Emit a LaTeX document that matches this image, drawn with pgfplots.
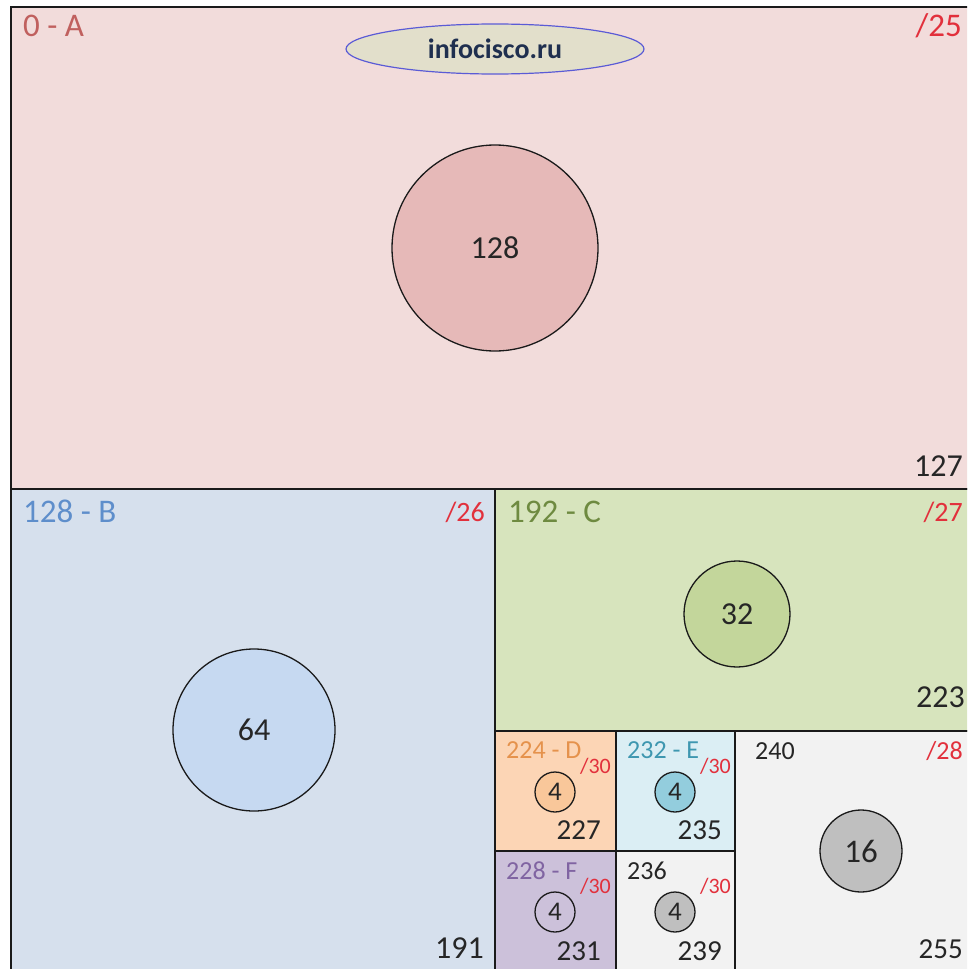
\documentclass[border=0pt]{standalone}
\usepackage{fontspec}
\setmainfont{Carlito}
\usepackage{pgfplots}
\pgfplotsset{compat=1.18}
\usetikzlibrary{shapes.geometric}
\definecolor{Abg}{HTML}{F2DCDB}
\definecolor{Acirc}{HTML}{E6B9B8}
\definecolor{Bbg}{HTML}{D6E0ED}
\definecolor{Bcirc}{HTML}{C6D9F1}
\definecolor{Cbg}{HTML}{D7E4BD}
\definecolor{Ccirc}{HTML}{C3D69B}
\definecolor{Dbg}{HTML}{FCD5B5}
\definecolor{Dcirc}{HTML}{F9C79A}
\definecolor{Ebg}{HTML}{DBEEF4}
\definecolor{Ecirc}{HTML}{93CDDD}
\definecolor{Fbg}{HTML}{CCC1DA}
\definecolor{Gbg}{HTML}{F2F2F2}
\definecolor{Gcirc}{HTML}{BFBFBF}
\definecolor{lineblk}{HTML}{1A1A1A}
\definecolor{txt}{HTML}{262626}
\definecolor{Acol}{HTML}{C0605E}
\definecolor{Bcol}{HTML}{5E8ECB}
\definecolor{Ccol}{HTML}{6E8A40}
\definecolor{Dcol}{HTML}{E5924C}
\definecolor{Ecol}{HTML}{3E97B0}
\definecolor{Fcol}{HTML}{8064A2}
\definecolor{pref}{HTML}{E2303C}
\definecolor{ellfill}{HTML}{E2DFCB}
\definecolor{ellline}{HTML}{5B5BD6}
\definecolor{navy}{HTML}{1F2F4F}
\newcommand{\fs}[1]{\fontsize{#1}{#1}\selectfont}
\pgfplotsset{
  circ/.style n args={3}{only marks, mark=*, mark size=#1,
    mark options={fill=#2, draw=lineblk, line width=1.3pt},
    nodes near coords={#3}, nodes near coords align={center}},
}
\begin{document}
\begin{tikzpicture}
\begin{axis}[scale only axis, width=967pt, height=969pt,
  xmin=0, xmax=967, ymin=0, ymax=969, y dir=reverse, hide axis, clip=true]
% blocks
\addplot[draw=lineblk, line width=2pt, fill=Abg] coordinates {(11,7) (990,7) (990,489) (11,489)} -- cycle;
\addplot[draw=lineblk, line width=2pt, fill=Bbg] coordinates {(11,489) (495,489) (495,990) (11,990)} -- cycle;
\addplot[draw=lineblk, line width=2pt, fill=Cbg] coordinates {(495,489) (990,489) (990,731) (495,731)} -- cycle;
\addplot[draw=lineblk, line width=2pt, fill=Dbg] coordinates {(495,731) (616,731) (616,851) (495,851)} -- cycle;
\addplot[draw=lineblk, line width=2pt, fill=Ebg] coordinates {(616,731) (735,731) (735,851) (616,851)} -- cycle;
\addplot[draw=lineblk, line width=2pt, fill=Fbg] coordinates {(495,851) (616,851) (616,990) (495,990)} -- cycle;
\addplot[draw=lineblk, line width=2pt, fill=Gbg] coordinates {(616,851) (735,851) (735,990) (616,990)} -- cycle;
\addplot[draw=lineblk, line width=2pt, fill=Gbg] coordinates {(735,731) (990,731) (990,990) (735,990)} -- cycle;
% circles with labels
\addplot[circ={103pt}{Acirc}{128}, every node near coord/.append style={font=\fs{32}, text=txt}] coordinates {(495,248)};
\addplot[circ={81pt}{Bcirc}{64}, every node near coord/.append style={font=\fs{32}, text=txt}] coordinates {(254,730)};
\addplot[circ={53pt}{Ccirc}{32}, every node near coord/.append style={font=\fs{32}, text=txt}] coordinates {(737,614)};
\addplot[circ={20pt}{Dcirc}{4}, every node near coord/.append style={font=\fs{27}, text=txt}] coordinates {(555,792)};
\addplot[circ={20pt}{Ecirc}{4}, every node near coord/.append style={font=\fs{27}, text=txt}] coordinates {(675,792)};
\addplot[circ={20pt}{Fbg}{4}, every node near coord/.append style={font=\fs{27}, text=txt}] coordinates {(555,912)};
\addplot[circ={20pt}{Gcirc}{4}, every node near coord/.append style={font=\fs{27}, text=txt}] coordinates {(675,912)};
\addplot[circ={41pt}{Gcirc}{16}, every node near coord/.append style={font=\fs{33}, text=txt}] coordinates {(861,851)};
% logo
\node[ellipse, draw=ellline, line width=1.2pt, fill=ellfill, minimum width=298pt, minimum height=50pt, inner sep=0pt, font=\bfseries\fs{28}, text=navy] at (axis cs:495,49) {infocisco.ru};
% A
\node[anchor=base west, font=\fs{33}, text=Acol, inner sep=0pt] at (axis cs:23,36) {0 - A};
\node[anchor=base east, font=\fs{33}, text=pref, inner sep=0pt] at (axis cs:962,36) {/25};
\node[anchor=base east, font=\fs{32}, text=txt, inner sep=0pt] at (axis cs:963,476) {127};
% B
\node[anchor=base west, font=\fs{33}, text=Bcol, inner sep=0pt] at (axis cs:23,522) {128 - B};
\node[anchor=base east, font=\fs{28}, text=pref, inner sep=0pt] at (axis cs:485,521) {/26};
\node[anchor=base east, font=\fs{32}, text=txt, inner sep=0pt] at (axis cs:484,958) {191};
% C
\node[anchor=base west, font=\fs{33}, text=Ccol, inner sep=0pt] at (axis cs:508,522) {192 - C};
\node[anchor=base east, font=\fs{28}, text=pref, inner sep=0pt] at (axis cs:963,521) {/27};
\node[anchor=base east, font=\fs{32}, text=txt, inner sep=0pt] at (axis cs:965,707) {223};
% D
\node[anchor=base west, font=\fs{26}, text=Dcol, inner sep=0pt] at (axis cs:506,758) {224 - D};
\node[anchor=base east, font=\fs{22}, text=pref, inner sep=0pt] at (axis cs:611,773) {/30};
\node[anchor=base east, font=\fs{29}, text=txt, inner sep=0pt] at (axis cs:601,839) {227};
% E
\node[anchor=base west, font=\fs{26}, text=Ecol, inner sep=0pt] at (axis cs:627,758) {232 - E};
\node[anchor=base east, font=\fs{22}, text=pref, inner sep=0pt] at (axis cs:731,773) {/30};
\node[anchor=base east, font=\fs{29}, text=txt, inner sep=0pt] at (axis cs:722,839) {235};
% F
\node[anchor=base west, font=\fs{26}, text=Fcol, inner sep=0pt] at (axis cs:506,879) {228 - F};
\node[anchor=base east, font=\fs{22}, text=pref, inner sep=0pt] at (axis cs:611,893) {/30};
\node[anchor=base east, font=\fs{29}, text=txt, inner sep=0pt] at (axis cs:601,960) {231};
% 236
\node[anchor=base west, font=\fs{26}, text=txt, inner sep=0pt] at (axis cs:627,879) {236};
\node[anchor=base east, font=\fs{22}, text=pref, inner sep=0pt] at (axis cs:731,893) {/30};
\node[anchor=base east, font=\fs{29}, text=txt, inner sep=0pt] at (axis cs:722,960) {239};
% 240
\node[anchor=base west, font=\fs{26}, text=txt, inner sep=0pt] at (axis cs:755,759) {240};
\node[anchor=base east, font=\fs{26}, text=pref, inner sep=0pt] at (axis cs:963,759) {/28};
\node[anchor=base east, font=\fs{29}, text=txt, inner sep=0pt] at (axis cs:963,958) {255};
\end{axis}
\pgfresetboundingbox
\useasboundingbox (current axis.south west) rectangle (current axis.north east);
\end{tikzpicture}
\end{document}
